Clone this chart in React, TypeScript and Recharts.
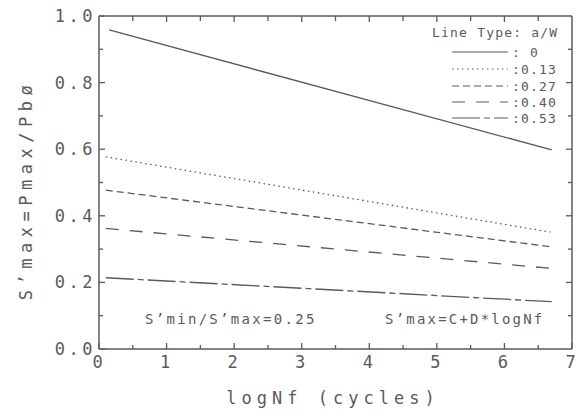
import React from 'react'
import { LineChart, Line, XAxis, YAxis, Customized } from 'recharts'

// a/W values and the fitted S'max = C + D*logNf lines
const aW = ['0', '0.13', '0.27', '0.40', '0.53']
const xStart = [0.15, 0.1, 0.1, 0.1, 0.1]
const xEnd = [6.7, 6.68, 6.69, 6.7, 6.7]
const sStart = [0.958, 0.577, 0.477, 0.362, 0.214]
const sEnd = [0.598, 0.351, 0.307, 0.242, 0.142]
const dashes = ['0', '1.5 3.5', '7 4', '13 11', '28 4 6 4']

const xTicks = [0, 0.5, 1, 1.5, 2, 2.5, 3, 3.5, 4, 4.5, 5, 5.5, 6, 6.5, 7]
const yTicks = [0, 0.1, 0.2, 0.3, 0.4, 0.5, 0.6, 0.7, 0.8, 0.9, 1.0]
const yMajor = [0, 0.2, 0.4, 0.6, 0.8, 1.0]

const INK = '#5a5a5a'
const FONT = '"DejaVu Sans Mono", monospace'

// plot box (matches the margins / axis sizes below)
const L = 99
const R = 572
const T = 16
const B = 349

const series = aW.map((a, i) => ({
  name: a,
  dash: dashes[i],
  data: [
    { x: xStart[i], y: sStart[i] },
    { x: xEnd[i], y: sEnd[i] },
  ],
}))

const fmtY = (v: number) => v.toFixed(1)

function BottomTick(props: any) {
  const { x, y, payload } = props
  const major = Number.isInteger(payload.value)
  return (
    <g>
      <line x1={x} x2={x} y1={y} y2={y - (major ? 6 : 4)} stroke={INK} strokeWidth={1.3} />
      {major && (
        <text x={x} y={y + 19} textAnchor="middle" fontSize={17} fontFamily={FONT} fill={INK} letterSpacing={3}>
          {payload.value}
        </text>
      )}
    </g>
  )
}

function LeftTick(props: any) {
  const { x, y, payload } = props
  const major = yMajor.includes(payload.value)
  return (
    <g>
      <line x1={x} x2={x + (major ? 6 : 4)} y1={y} y2={y} stroke={INK} strokeWidth={1.3} />
      {major && (
        <text x={x - 3} y={y + 6} textAnchor="end" fontSize={17} fontFamily={FONT} fill={INK} letterSpacing={3.5}>
          {fmtY(payload.value)}
        </text>
      )}
    </g>
  )
}

function Notes() {
  const rowY = [52, 69, 86, 102, 118]
  const px = (v: number) => L + (v / 7) * (R - L)
  const py = (v: number) => B - v * (B - T)
  return (
    <g fontFamily={FONT} fill={INK}>
      {/* top and right frame with inward ticks */}
      <line x1={L} x2={R} y1={T} y2={T} stroke={INK} strokeWidth={1.5} />
      <line x1={R} x2={R} y1={T} y2={B} stroke={INK} strokeWidth={1.5} />
      {xTicks.slice(1, -1).map((v) => (
        <line key={'t' + v} x1={px(v)} x2={px(v)} y1={T} y2={T + (Number.isInteger(v) ? 6 : 5)} stroke={INK} strokeWidth={1.3} />
      ))}
      {yTicks.slice(1, -1).map((v) => (
        <line key={'r' + v} x1={R} x2={R - (yMajor.includes(v) ? 6 : 4)} y1={py(v)} y2={py(v)} stroke={INK} strokeWidth={1.3} />
      ))}
      <text x={26} y={190} transform="rotate(-90 26 190)" textAnchor="middle" dominantBaseline="central" fontSize={17} letterSpacing={5.5}>
        S’max=Pmax/Pbø
      </text>
      <text x={333} y={404} textAnchor="middle" fontSize={17} letterSpacing={5}>
        logNf (cycles)
      </text>
      <text x={145} y={324} fontSize={14} letterSpacing={2.3}>S’min/S’max=0.25</text>
      <text x={385} y={324} fontSize={14} letterSpacing={2.2}>S’max=C+D*logNf</text>
      <text x={432} y={37} fontSize={13} letterSpacing={1.2}>Line Type: a/W</text>
      {aW.map((a, i) => (
        <g key={a}>
          <line x1={452} x2={508} y1={rowY[i]} y2={rowY[i]} stroke={INK} strokeWidth={1.2} strokeDasharray={dashes[i]} />
          <text x={512} y={rowY[i] + 5} fontSize={13} letterSpacing={1.2}>
            {i === 0 ? ':  ' + a : ':' + a}
          </text>
        </g>
      ))}
    </g>
  )
}

export default function App() {
  return (
    <div style={{ position: 'absolute', left: 0, top: 0, width: 576, height: 418, background: '#fff' }}>
      <LineChart width={576} height={418} margin={{ top: T, right: 576 - R, bottom: 0, left: 0 }}>
        <XAxis
          type="number"
          dataKey="x"
          domain={[0, 7]}
          ticks={xTicks}
          interval={0}
          height={418 - B}
          tickSize={0}
          tickMargin={0}
          tickLine={false}
          axisLine={{ stroke: INK, strokeWidth: 1.5 }}
          tick={<BottomTick />}
        />
        <YAxis
          type="number"
          domain={[0, 1]}
          ticks={yTicks}
          interval={0}
          width={L}
          tickSize={0}
          tickMargin={0}
          tickLine={false}
          axisLine={{ stroke: INK, strokeWidth: 1.5 }}
          tick={<LeftTick />}
        />
        {series.map((s) => (
          <Line
            key={s.name}
            data={s.data}
            dataKey="y"
            name={s.name}
            stroke={INK}
            strokeWidth={1.3}
            strokeDasharray={s.dash}
            dot={false}
            activeDot={false}
            isAnimationActive={false}
          />
        ))}
        <Customized component={<Notes />} />
      </LineChart>
    </div>
  )
}
